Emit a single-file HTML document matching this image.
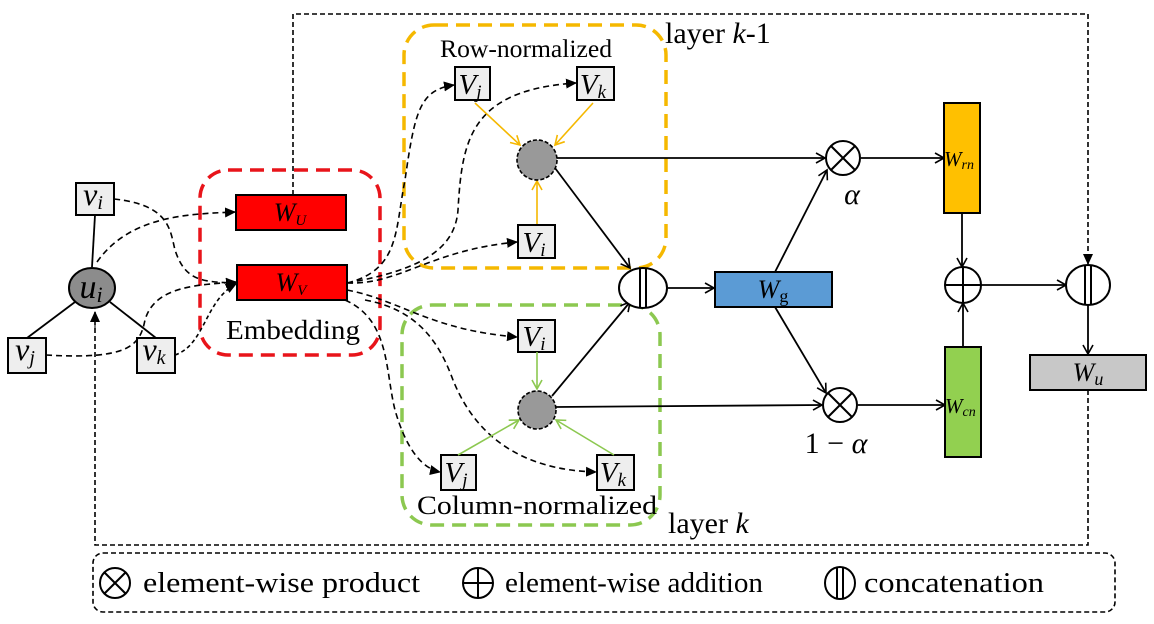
<!DOCTYPE html>
<html><head><meta charset="utf-8"><style>
html,body{margin:0;padding:0;background:#fff;}
svg{display:block;}
text{font-family:"Liberation Serif",serif;fill:#000;}
.m{font-style:italic;}
</style></head><body>
<svg width="1154" height="624" viewBox="0 0 1154 624" xmlns="http://www.w3.org/2000/svg">
<defs>
<marker id="o" markerWidth="12" markerHeight="12" refX="10" refY="6" orient="auto" markerUnits="userSpaceOnUse"><path d="M1,1 L10,6 L1,11" fill="none" stroke="#000" stroke-width="1.6"/></marker>
<marker id="f" markerWidth="12" markerHeight="12" refX="10" refY="6" orient="auto" markerUnits="userSpaceOnUse"><path d="M0,1 L11,6 L0,11 Z" fill="#000"/></marker>
<marker id="y" markerWidth="12" markerHeight="12" refX="10" refY="6" orient="auto" markerUnits="userSpaceOnUse"><path d="M1,1 L10,6 L1,11" fill="none" stroke="#f5b800" stroke-width="1.6"/></marker>
<marker id="g" markerWidth="12" markerHeight="12" refX="10" refY="6" orient="auto" markerUnits="userSpaceOnUse"><path d="M1,1 L10,6 L1,11" fill="none" stroke="#8cc850" stroke-width="1.6"/></marker>
</defs>

<g fill="none" stroke="#000" stroke-width="1.6" stroke-dasharray="5,3">
<path d="M293,195 L293,14 L1088,14 L1088,264" marker-end="url(#f)"/>
<path d="M1088,390 L1088,545 L95,545 L95,312"/>
<rect x="93" y="553" width="1022" height="59" rx="10"/>
</g>
<path d="M95,330 L95,312" stroke="#000" marker-end="url(#f)"/>

<rect x="200" y="170" width="180" height="185" rx="28" fill="none" stroke="#e8141a" stroke-width="3.5" stroke-dasharray="14,8"/>
<rect x="404" y="25" width="262" height="243" rx="30" fill="none" stroke="#f5b800" stroke-width="3.5" stroke-dasharray="14,8"/>
<rect x="402" y="305" width="258" height="220" rx="30" fill="none" stroke="#8cc850" stroke-width="3.5" stroke-dasharray="14,8"/>

<g stroke="#000" stroke-width="1.8">
<line x1="95" y1="215" x2="92" y2="267"/>
<line x1="75" y1="302" x2="27" y2="338"/>
<line x1="110" y1="302" x2="156" y2="338"/>
</g>
<ellipse cx="92" cy="288" rx="23" ry="20" fill="#8c8c8c" stroke="#000" stroke-width="2"/>
<text x="91" y="298" class="m" font-size="34" text-anchor="middle">u<tspan font-size="22" dy="4">i</tspan></text>
<g fill="#eee" stroke="#000" stroke-width="2">
<rect x="76" y="183" width="38" height="32"/>
<rect x="8" y="338" width="38" height="35"/>
<rect x="137" y="338" width="38" height="35"/>
</g>
<text x="93" y="205" class="m" font-size="32" text-anchor="middle">v<tspan font-size="20" dy="4">i</tspan></text>
<text x="25" y="360" class="m" font-size="32" text-anchor="middle">v<tspan font-size="20" dy="4">j</tspan></text>
<text x="154" y="360" class="m" font-size="32" text-anchor="middle">v<tspan font-size="20" dy="4">k</tspan></text>

<g fill="none" stroke="#000" stroke-width="1.6" stroke-dasharray="6,4">
<path d="M114,199 C170,205 170,230 175,250 C185,280 200,282 236,283" marker-end="url(#f)"/>
<path d="M97,262 C130,215 190,214 235,212" marker-end="url(#f)"/>
<path d="M46,355 C130,360 140,345 145,320 C155,285 200,285 236,282" marker-end="url(#f)"/>
<path d="M175,355 C205,345 205,300 236,284" marker-end="url(#f)" stroke-dasharray="4,3"/>
<path d="M347,283 C400,270 395,230 405,180 C415,110 420,90 454,85" marker-end="url(#f)"/>
<path d="M347,283 C420,270 455,250 458,210 C462,140 470,90 576,83" marker-end="url(#f)"/>
<path d="M347,283 C400,285 430,250 517,242" marker-end="url(#f)"/>
<path d="M347,290 C400,300 430,330 517,337" marker-end="url(#f)"/>
<path d="M345,300 C390,320 385,370 395,410 C405,445 420,468 440,472" marker-end="url(#f)"/>
<path d="M365,300 C420,310 440,345 453,380 C475,435 520,470 596,472" marker-end="url(#f)"/>
</g>

<rect x="236" y="195" width="110" height="35" fill="#ff0000" stroke="#000" stroke-width="2"/>
<rect x="237" y="265" width="110" height="35" fill="#ff0000" stroke="#000" stroke-width="2"/>
<text x="290" y="221" class="m" font-size="26" text-anchor="middle">W<tspan font-size="15" dy="4">U</tspan></text>
<text x="291" y="291" class="m" font-size="26" text-anchor="middle">W<tspan font-size="15" dy="4">V</tspan></text>
<text x="226" y="339" font-size="27" textLength="134" lengthAdjust="spacingAndGlyphs">Embedding</text>

<text x="440" y="57" font-size="25" textLength="172" lengthAdjust="spacingAndGlyphs">Row-normalized</text>
<line x1="475" y1="103" x2="520" y2="145" stroke="#f5b800" stroke-width="1.6" marker-end="url(#y)"/>
<line x1="593" y1="103" x2="555" y2="145" stroke="#f5b800" stroke-width="1.6" marker-end="url(#y)"/>
<line x1="537" y1="224" x2="537" y2="181" stroke="#f5b800" stroke-width="1.6" marker-end="url(#y)"/>
<g fill="#eee" stroke="#000" stroke-width="2">
<rect x="455" y="67" width="35" height="33"/>
<rect x="577" y="67" width="37" height="33"/>
<rect x="518" y="225" width="37" height="33"/>
<rect x="518" y="320" width="37" height="32"/>
<rect x="441" y="455" width="35" height="35"/>
<rect x="597" y="455" width="37" height="35"/>
</g>
<g class="m" font-size="29" text-anchor="middle">
<text x="470" y="94">V<tspan font-size="19" dy="4">j</tspan></text>
<text x="593" y="94">V<tspan font-size="19" dy="4">k</tspan></text>
<text x="534" y="252">V<tspan font-size="19" dy="4">i</tspan></text>
<text x="534" y="346">V<tspan font-size="19" dy="4">i</tspan></text>
<text x="456" y="482">V<tspan font-size="19" dy="4">j</tspan></text>
<text x="613" y="482">V<tspan font-size="19" dy="4">k</tspan></text>
</g>
<ellipse cx="537" cy="160" rx="20" ry="20" fill="#999" stroke="#000" stroke-width="1.6" stroke-dasharray="4,2"/>

<line x1="537" y1="352" x2="537" y2="389" stroke="#8cc850" stroke-width="1.6" marker-end="url(#g)"/>
<line x1="458" y1="455" x2="519" y2="420" stroke="#8cc850" stroke-width="1.6" marker-end="url(#g)"/>
<line x1="614" y1="455" x2="556" y2="420" stroke="#8cc850" stroke-width="1.6" marker-end="url(#g)"/>
<ellipse cx="537" cy="410" rx="19" ry="19" fill="#999" stroke="#000" stroke-width="1.6" stroke-dasharray="4,2"/>
<text x="417" y="514" font-size="26" textLength="240" lengthAdjust="spacingAndGlyphs">Column-normalized</text>

<g fill="none" stroke="#000" stroke-width="1.8">
<line x1="557" y1="158" x2="825" y2="158" marker-end="url(#o)"/>
<line x1="555" y1="168" x2="630" y2="268" marker-end="url(#o)"/>
<line x1="556" y1="407" x2="822" y2="405" marker-end="url(#o)"/>
<line x1="552" y1="396" x2="630" y2="302" marker-end="url(#o)"/>
<line x1="668" y1="288" x2="714" y2="288" marker-end="url(#o)"/>
<line x1="775" y1="272" x2="827" y2="170" marker-end="url(#o)"/>
<line x1="775" y1="307" x2="826" y2="393" marker-end="url(#o)"/>
<line x1="861" y1="158" x2="944" y2="158" marker-end="url(#o)"/>
<line x1="858" y1="405" x2="945" y2="405" marker-end="url(#o)"/>
<line x1="962" y1="213" x2="962" y2="267" marker-end="url(#o)"/>
<line x1="963" y1="347" x2="963" y2="303" marker-end="url(#o)"/>
<line x1="981" y1="285" x2="1066" y2="285" marker-end="url(#o)"/>
<line x1="1088" y1="305" x2="1088" y2="354" marker-end="url(#o)"/>
</g>

<ellipse cx="643" cy="288" rx="24" ry="20" fill="#fff" stroke="#000" stroke-width="2"/>
<line x1="640" y1="268" x2="640" y2="308" stroke="#000" stroke-width="2"/>
<line x1="646" y1="268" x2="646" y2="308" stroke="#000" stroke-width="2"/>

<rect x="715" y="272" width="117" height="35" fill="#5b9bd5" stroke="#000" stroke-width="2"/>
<text x="773" y="298" class="m" font-size="26" text-anchor="middle">W<tspan font-size="18" dy="4" font-style="normal">g</tspan></text>

<g fill="#fff" stroke="#000" stroke-width="2">
<circle cx="843" cy="158" r="17"/>
<circle cx="840" cy="405" r="17"/>
<circle cx="963" cy="285" r="18"/>
</g>
<g stroke="#000" stroke-width="2">
<line x1="831" y1="146" x2="855" y2="170"/><line x1="855" y1="146" x2="831" y2="170"/>
<line x1="828" y1="393" x2="852" y2="417"/><line x1="852" y1="393" x2="828" y2="417"/>
<line x1="945" y1="285" x2="981" y2="285"/><line x1="963" y1="267" x2="963" y2="303"/>
</g>
<text x="852" y="204" class="m" font-size="30" text-anchor="middle">α</text>
<text x="836" y="453" font-size="30" text-anchor="middle">1 − <tspan class="m">α</tspan></text>

<rect x="944" y="103" width="36" height="110" fill="#ffc000" stroke="#000" stroke-width="2"/>
<rect x="945" y="347" width="36" height="110" fill="#92d050" stroke="#000" stroke-width="2"/>
<text x="944" y="166" class="m" font-size="21">W<tspan font-size="14" dy="3">rn</tspan></text>
<text x="945" y="413" class="m" font-size="21">W<tspan font-size="14" dy="3">cn</tspan></text>

<ellipse cx="1088" cy="285" rx="22" ry="20" fill="#fff" stroke="#000" stroke-width="2"/>
<line x1="1085" y1="265" x2="1085" y2="305" stroke="#000" stroke-width="2"/>
<line x1="1091" y1="265" x2="1091" y2="305" stroke="#000" stroke-width="2"/>
<rect x="1030" y="355" width="116" height="35" fill="#c8c8c8" stroke="#000" stroke-width="2"/>
<text x="1088" y="381" class="m" font-size="26" text-anchor="middle">W<tspan font-size="18" dy="4">u</tspan></text>

<text x="665" y="43" font-size="30">layer <tspan class="m">k</tspan>-1</text>
<text x="668" y="533" font-size="30">layer <tspan class="m">k</tspan></text>

<g fill="none" stroke="#000" stroke-width="2">
<circle cx="115" cy="583" r="15"/><line x1="104" y1="572" x2="126" y2="594"/><line x1="126" y1="572" x2="104" y2="594"/>
<circle cx="478" cy="583" r="15"/><line x1="463" y1="583" x2="493" y2="583"/><line x1="478" y1="568" x2="478" y2="598"/>
<ellipse cx="840" cy="583" rx="15" ry="16"/><line x1="837" y1="567" x2="837" y2="599"/><line x1="843" y1="567" x2="843" y2="599"/>
</g>
<text x="143" y="592" font-size="29" textLength="277" lengthAdjust="spacingAndGlyphs">element-wise product</text>
<text x="505" y="592" font-size="29" textLength="258" lengthAdjust="spacingAndGlyphs">element-wise addition</text>
<text x="864" y="592" font-size="29" textLength="180" lengthAdjust="spacingAndGlyphs">concatenation</text>
</svg>
</body></html>
